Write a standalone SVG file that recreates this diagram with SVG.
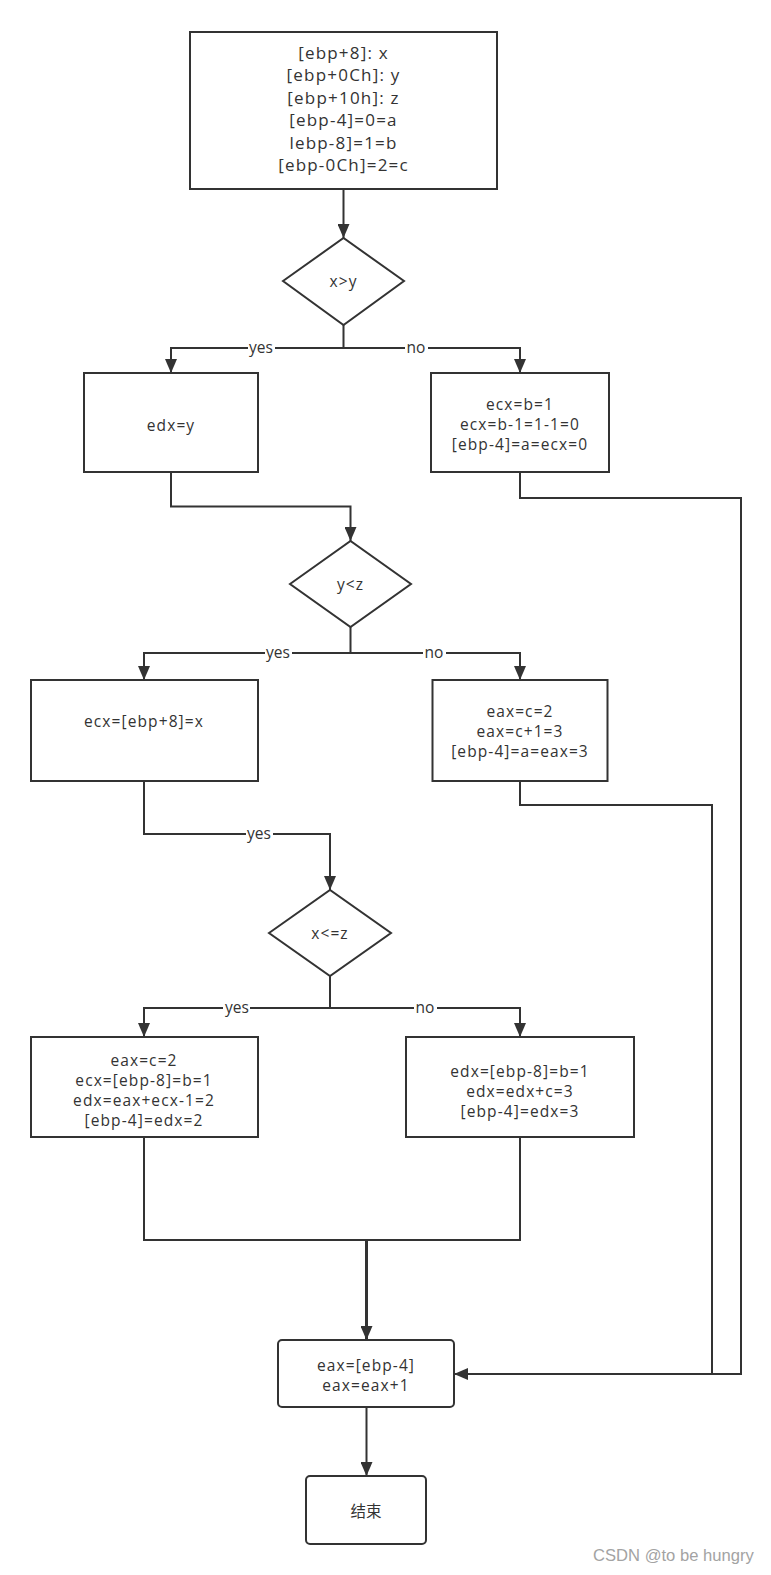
<svg xmlns="http://www.w3.org/2000/svg" width="771" height="1575" viewBox="0 0 771 1575">
<style>
.box{fill:#fff;stroke:#333;stroke-width:2}
.t{font-family:"Open Sans","Noto Sans",sans-serif;font-size:15.5px;fill:#333;text-anchor:middle;letter-spacing:1.1px}
.tt{font-family:"Open Sans","Noto Sans",sans-serif;font-size:17px;fill:#333;text-anchor:middle;letter-spacing:1.2px}
.lbl{font-family:"Open Sans","Noto Sans",sans-serif;font-size:15.5px;fill:#333;text-anchor:middle}
.cn{font-family:"Open Sans","Noto Sans CJK SC",sans-serif;font-size:15.5px;fill:#333;text-anchor:middle}
.c{fill:none;stroke:#333;stroke-width:2}
.lb{fill:#fff}
.wm{font-family:"Liberation Sans",Arial,sans-serif;font-size:16.6px;fill:#a3a3a3}
</style>
<defs>
<marker id="arr" markerUnits="userSpaceOnUse" markerWidth="14" markerHeight="12" refX="14" refY="6" orient="auto">
<path d="M0,0 L14,6 L0,12 z" fill="#333"/>
</marker>
</defs>
<rect width="771" height="1575" fill="#fff"/>
<g id="connectors">
<path class="c" d="M343.5,189 V238" marker-end="url(#arr)"/>
<path class="c" d="M343.5,325 V348 H171 V373" marker-end="url(#arr)"/>
<path class="c" d="M343.5,348 H520 V373" marker-end="url(#arr)"/>
<path class="c" d="M171,472 V506.5 H350.5 V541" marker-end="url(#arr)"/>
<path class="c" d="M350.5,627 V653 H144 V680" marker-end="url(#arr)"/>
<path class="c" d="M350.5,653 H520 V680" marker-end="url(#arr)"/>
<path class="c" d="M144,781 V834 H330 V890" marker-end="url(#arr)"/>
<path class="c" d="M330,976 V1008 H144 V1037" marker-end="url(#arr)"/>
<path class="c" d="M330,1008 H520 V1037" marker-end="url(#arr)"/>
<path class="c" d="M144,1137 V1240 H520 V1137"/>
<path class="c" style="stroke-width:3" d="M366.5,1240 V1340" marker-end="url(#arr)"/>
<path class="c" d="M520,472 V498 H741 V1374 H454" marker-end="url(#arr)"/>
<path class="c" d="M520,781 V805 H712 V1374"/>
<path class="c" d="M366.5,1407 V1476" marker-end="url(#arr)"/>
<rect class="lb" x="248" y="340" width="27" height="16"/>
<text class="lbl" x="261" y="353">yes</text>
<rect class="lb" x="405" y="340" width="23" height="16"/>
<text class="lbl" x="416" y="353">no</text>
<rect class="lb" x="265" y="645" width="27" height="16"/>
<text class="lbl" x="278" y="658">yes</text>
<rect class="lb" x="423" y="645" width="23" height="16"/>
<text class="lbl" x="434" y="658">no</text>
<rect class="lb" x="246" y="826" width="27" height="16"/>
<text class="lbl" x="259" y="839">yes</text>
<rect class="lb" x="223" y="1000" width="27" height="16"/>
<text class="lbl" x="237" y="1013">yes</text>
<rect class="lb" x="414" y="1000" width="23" height="16"/>
<text class="lbl" x="425" y="1013">no</text>
</g>
<g id="init">
<rect class="box" x="190" y="32" width="307" height="157"/>
<text class="tt" x="343.5" y="59">[ebp+8]: x</text>
<text class="tt" x="343.5" y="81.4">[ebp+0Ch]: y</text>
<text class="tt" x="343.5" y="103.8">[ebp+10h]: z</text>
<text class="tt" x="343.5" y="126.2">[ebp-4]=0=a</text>
<text class="tt" x="343.5" y="148.6">lebp-8]=1=b</text>
<text class="tt" x="343.5" y="171">[ebp-0Ch]=2=c</text>
</g>
<g id="cond1">
<path class="box" d="M283,281 L343.5,238 L404,281 L343.5,325 Z"/>
<text class="t" x="343.5" y="287">x&gt;y</text>
</g>
<g id="edx_y">
<rect class="box" x="84" y="373" width="174" height="99"/>
<text class="t" x="171" y="431">edx=y</text>
</g>
<g id="no1">
<rect class="box" x="431" y="373" width="178" height="99"/>
<text class="t" x="520" y="410">ecx=b=1</text>
<text class="t" x="520" y="430">ecx=b-1=1-1=0</text>
<text class="t" x="520" y="450">[ebp-4]=a=ecx=0</text>
</g>
<g id="cond2">
<path class="box" d="M290,584 L350.5,541 L411,584 L350.5,627 Z"/>
<text class="t" x="350.5" y="590">y&lt;z</text>
</g>
<g id="ecx_x">
<rect class="box" x="31" y="680" width="227" height="101"/>
<text class="t" x="144" y="727">ecx=[ebp+8]=x</text>
</g>
<g id="no2">
<rect class="box" x="432.5" y="680" width="175" height="101"/>
<text class="t" x="520" y="717">eax=c=2</text>
<text class="t" x="520" y="737">eax=c+1=3</text>
<text class="t" x="520" y="757">[ebp-4]=a=eax=3</text>
</g>
<g id="cond3">
<path class="box" d="M269,933 L330,890 L391,933 L330,976 Z"/>
<text class="t" x="330" y="939">x&lt;=z</text>
</g>
<g id="yes3">
<rect class="box" x="31" y="1037" width="227" height="100"/>
<text class="t" x="144" y="1066">eax=c=2</text>
<text class="t" x="144" y="1086">ecx=[ebp-8]=b=1</text>
<text class="t" x="144" y="1106">edx=eax+ecx-1=2</text>
<text class="t" x="144" y="1126">[ebp-4]=edx=2</text>
</g>
<g id="no3">
<rect class="box" x="406" y="1037" width="228" height="100"/>
<text class="t" x="520" y="1077">edx=[ebp-8]=b=1</text>
<text class="t" x="520" y="1097">edx=edx+c=3</text>
<text class="t" x="520" y="1117">[ebp-4]=edx=3</text>
</g>
<g id="inc">
<rect class="box" x="278" y="1340" width="176" height="67" rx="4"/>
<text class="t" x="366" y="1371">eax=[ebp-4]</text>
<text class="t" x="366" y="1391">eax=eax+1</text>
</g>
<g id="end">
<rect class="box" x="306" y="1476" width="120" height="68" rx="4"/>
<text class="cn" x="366" y="1517">结束</text>
</g>
<text class="wm" x="593" y="1561">CSDN @to be hungry</text>
</svg>
